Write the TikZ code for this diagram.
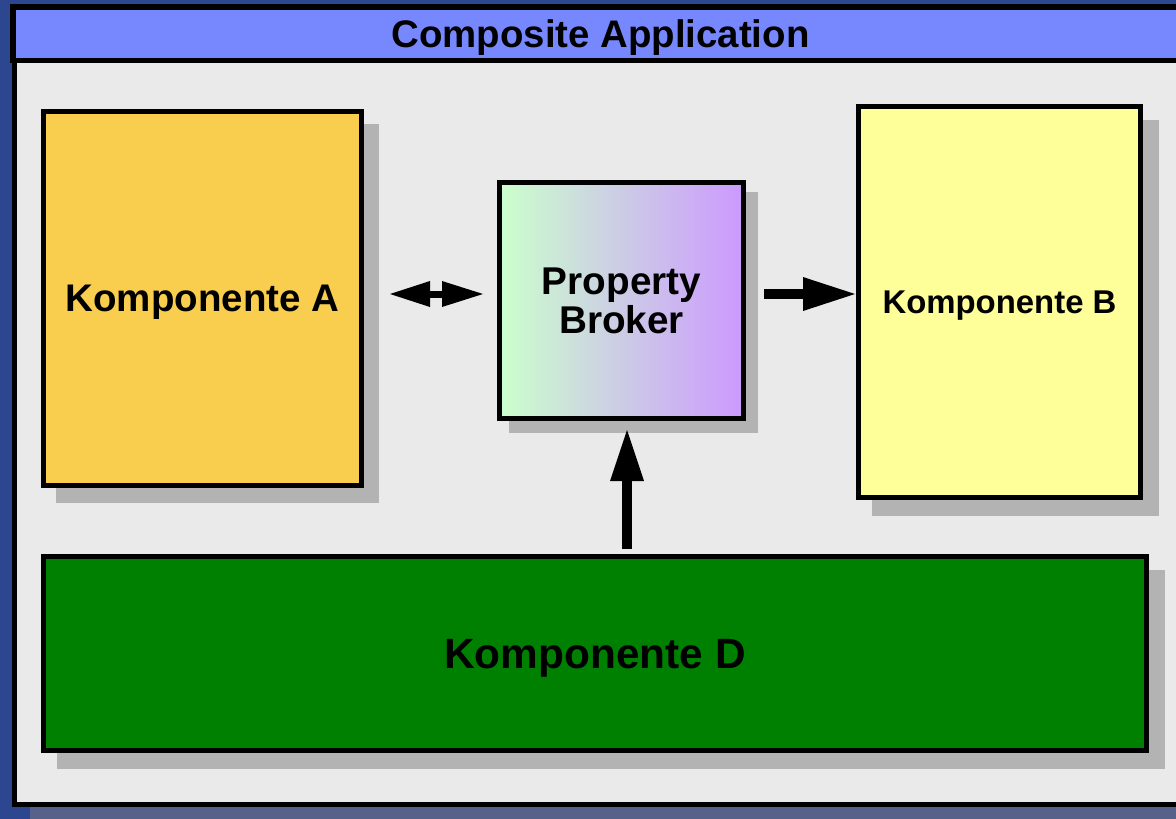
\documentclass[tikz,border=0pt]{standalone}
\usepackage{fontspec}
\setmainfont{Liberation Sans}
\usetikzlibrary{arrows.meta,calc}
\pgfdeclarelayer{back}
\pgfdeclarelayer{shade}
\pgfsetlayers{back,shade,main}
\definecolor{bgblue}{HTML}{2C4690}
\definecolor{slate}{HTML}{56628A}
\definecolor{panelgray}{HTML}{EAEAEA}
\definecolor{titleblue}{HTML}{7788FF}
\definecolor{shadowgray}{HTML}{B3B3B3}
\definecolor{compA}{HTML}{F9CD4D}
\definecolor{compB}{HTML}{FFFF99}
\definecolor{compD}{HTML}{008000}
\definecolor{gradL}{HTML}{CCFFCC}
\definecolor{gradR}{HTML}{CC99FF}
\begin{document}
\begin{tikzpicture}[x=1pt,y=-1pt,
  box/.style={draw=black,line width=5pt,outer sep=0pt,inner sep=0pt,font=\bfseries,align=center},
  arrR/.style={line width=10pt,-{Triangle[length=52pt,width=34pt,line width=0pt]}},
  arrU/.style={line width=10pt,-{Triangle[length=51pt,width=34pt,line width=0pt]}},
  arrD/.style={line width=7pt,{Triangle[length=40pt,width=26pt,line width=0pt]}-{Triangle[length=41pt,width=26pt,line width=0pt]}}]
\useasboundingbox (0,0) rectangle (1176,819);
\begin{pgfonlayer}{back}
  \fill[bgblue] (0,0) rectangle (1176,819);
  \fill[slate] (30,400) rectangle (1176,819);
  \draw[line width=5pt,fill=panelgray] (14.5,40) rectangle (1200,804.5);
  \draw[line width=5.5pt,fill=titleblue] (12.75,6.75) rectangle (1200,60.25);
\end{pgfonlayer}
\node[font=\bfseries\fontsize{38.4}{40}\selectfont,text depth=0pt,inner sep=0pt] (title) at (600.5,34) {Composite Application};
\node[box,fill=compA,minimum width=318pt,minimum height=374pt,text depth=0pt,font=\bfseries\fontsize{38.5}{40}\selectfont] (A) at (202.5,298.5) {Komponente A};
\node[box,left color=gradL,right color=gradR,minimum width=244pt,minimum height=236pt,font=\bfseries\fontsize{38.7}{39}\selectfont] (broker) at (621.5,300.5) {Property\\Broker};
\node[box,fill=compB,minimum width=282pt,minimum height=391pt,text depth=0pt,font=\bfseries\fontsize{32.9}{35}\selectfont] (B) at (999.5,302) {Komponente B};
\node[box,fill=compD,minimum width=1103pt,minimum height=194pt,text depth=0pt,font=\bfseries\fontsize{42.4}{44}\selectfont] (D) at (595,653.5) {Komponente D};
\begin{pgfonlayer}{shade}
  \foreach \n/\d in {A/15,broker/12,B/16,D/16}
    \fill[shadowgray] ($(\n.north west)+({\d-2.5},{\d-2.5})$) rectangle ($(\n.south east)+({\d+2.5},{\d+2.5})$);
\end{pgfonlayer}
\coordinate (ay) at (0,294);
\coordinate (ux) at (627,0);
\draw[arrD,shorten <=28.5pt,shorten >=16.5pt] (A.east |- ay) -- (broker.west |- ay);
\draw[arrR,shorten <=20.5pt,shorten >=3.5pt] (broker.east |- ay) -- (B.west |- ay);
\draw[arrU,shorten <=7.5pt,shorten >=11.5pt] (ux |- D.north) -- (ux |- broker.south);
\end{tikzpicture}
\end{document}
